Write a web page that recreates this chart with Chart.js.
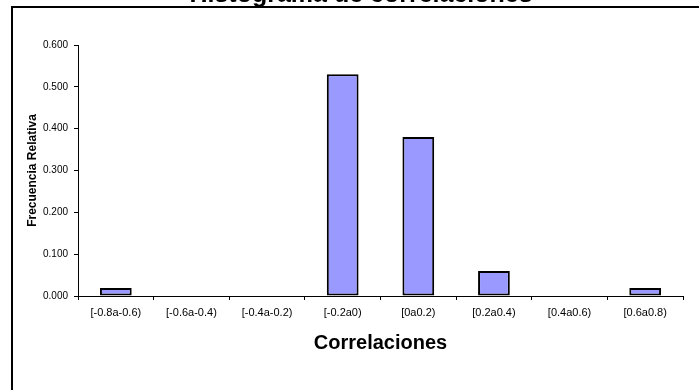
<!DOCTYPE html>
<html>
<head>
<meta charset="utf-8">
<script src="https://cdn.jsdelivr.net/npm/chart.js@4/dist/chart.umd.min.js"></script>
<style>
html,body{margin:0;padding:0;background:#fff;}
#wrap{width:699px;height:390px;position:relative;}
</style>
</head>
<body>
<div id="wrap"><canvas id="c" width="699" height="390"></canvas></div>
<script>
const categories = ["[-0.8a-0.6)", "[-0.6a-0.4)", "[-0.4a-0.2)", "[-0.2a0)", "[0a0.2)", "[0.2a0.4)", "[0.4a0.6)", "[0.6a0.8)"];
const frecuencias = [0.019, 0, 0, 0.530, 0.380, 0.060, 0, 0.019];
const yTicks = [0, 0.1, 0.2, 0.3, 0.4, 0.5, 0.6];
const chartTitle = "Histograma de correlaciones";
const xTitle = "Correlaciones";
const yTitle = "Frecuencia Relativa";

const FONT = "'Liberation Sans', Arial, sans-serif";

const frame = {
  id: 'frame',
  beforeDraw(chart) {
    const ctx = chart.ctx;
    ctx.save();
    ctx.fillStyle = '#fff';
    ctx.fillRect(0, 0, chart.width, chart.height);
    ctx.strokeStyle = '#000';
    ctx.lineWidth = 2;
    ctx.strokeRect(12, 7, 760, 460);
    ctx.fillStyle = '#000';
    ctx.font = "bold 25px " + FONT;
    ctx.textAlign = 'center';
    ctx.textBaseline = 'alphabetic';
    ctx.fillText(chartTitle, 361, 2);
    ctx.restore();
  }
};

new Chart(document.getElementById('c'), {
  type: 'bar',
  data: {
    labels: categories,
    datasets: [{
      data: frecuencias,
      backgroundColor: '#9999FF',
      borderColor: '#000',
      borderWidth: 2,
      borderSkipped: false,
      barPercentage: 0.42,
      categoryPercentage: 1.0
    }]
  },
  options: {
    responsive: false,
    animation: false,
    devicePixelRatio: 1,
    layout: { padding: { top: 45, right: 16, left: 0, bottom: 0 } },
    plugins: { legend: { display: false }, tooltip: { enabled: false }, title: { display: false } },
    scales: {
      x: {
        grid: { display: true, drawOnChartArea: false, color: '#000', tickLength: 4, offset: true },
        border: { display: true, color: '#000', width: 1 },
        ticks: { color: '#000', font: { family: FONT, size: 11 }, padding: 6, maxRotation: 0, autoSkip: false },
        title: { display: true, text: xTitle, color: '#000', font: { family: FONT, size: 20, weight: 'bold' }, padding: { top: 0, bottom: 35 } },
        afterFit(scale) { scale.height = 94; }
      },
      y: {
        min: 0, max: 0.6,
        afterBuildTicks(scale) { scale.ticks = yTicks.map(v => ({ value: v })); },
        grid: { display: true, drawOnChartArea: false, color: '#000', tickLength: 4 },
        border: { display: true, color: '#000', width: 1 },
        ticks: { color: '#000', font: { family: FONT, size: 10 }, padding: 6, callback: v => Number(v).toFixed(3) },
        title: { display: true, text: yTitle, color: '#000', font: { family: FONT, size: 12, weight: 'bold' }, padding: { top: 25, bottom: 0 } },
        afterFit(scale) { scale.width = 78; }
      }
    }
  },
  plugins: [frame]
});
</script>
</body>
</html>
